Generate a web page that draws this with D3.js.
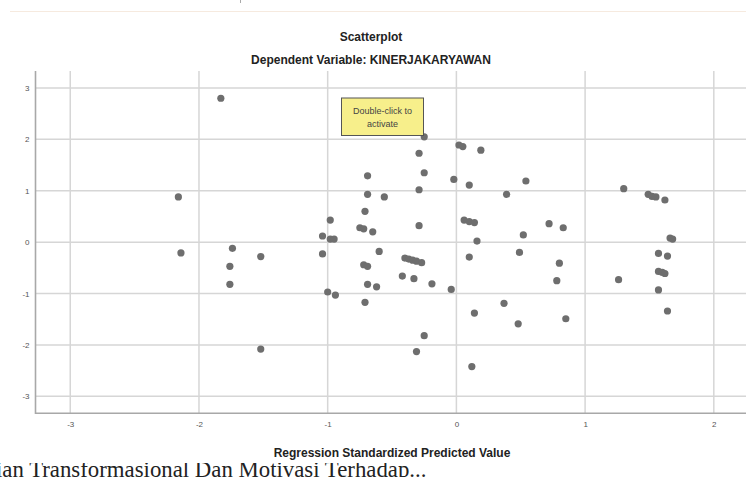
<!DOCTYPE html>
<html>
<head>
<meta charset="utf-8">
<script src="https://cdn.jsdelivr.net/npm/d3@7"></script>
<style>
  body { margin: 0; background: #fff; }
  svg { display: block; }
</style>
</head>
<body>
<div id="chart"></div>
<script>
// regression standardized predicted value (x) vs residual (y)
var predicted = [
  -1.83, -2.16, -2.14, -1.74, -1.76, -1.76, -1.52, -1.52,
  -0.25, 0.02, 0.05, 0.19, -0.29, -0.25, -0.69, -0.02, 0.10, 0.54,
  -0.29, -0.69, -0.56, 0.39, -0.71, -0.98, -0.75, -0.72, -0.65, -0.29,
  0.06, 0.10, 0.14, 0.16, -1.04, -0.98, -0.95, -1.04, -0.60, 0.10,
  -0.72, -0.69, -0.40, -0.37, -0.34, -0.31, -0.27, -0.42, -0.33, -0.19,
  -0.04, -0.69, -0.62, -1.00, -0.94, -0.71, -0.25, -0.31, 0.14, 0.12,
  1.30, 0.72, 0.83, 0.52, 0.49, 0.80, 0.78, 1.26, 0.37, 0.85, 0.48,
  1.49, 1.52, 1.55, 1.62, 1.66, 1.68, 1.57, 1.64, 1.57, 1.60, 1.62, 1.57, 1.64
];
var residual = [
  2.80, 0.88, -0.21, -0.12, -0.47, -0.82, -0.28, -2.08,
  2.05, 1.89, 1.86, 1.79, 1.73, 1.35, 1.29, 1.22, 1.11, 1.19,
  1.02, 0.93, 0.88, 0.93, 0.60, 0.43, 0.28, 0.26, 0.20, 0.32,
  0.43, 0.40, 0.38, 0.02, 0.12, 0.06, 0.06, -0.23, -0.18, -0.29,
  -0.44, -0.47, -0.31, -0.33, -0.35, -0.37, -0.40, -0.66, -0.71, -0.81,
  -0.92, -0.82, -0.87, -0.97, -1.03, -1.17, -1.82, -2.13, -1.38, -2.42,
  1.04, 0.36, 0.28, 0.14, -0.20, -0.41, -0.75, -0.73, -1.19, -1.49, -1.59,
  0.93, 0.89, 0.88, 0.82, 0.08, 0.06, -0.22, -0.27, -0.57, -0.59, -0.61, -0.93, -1.34
];
var xTicks = [-3, -2, -1, 0, 1, 2];
var yTicks = [-3, -2, -1, 0, 1, 2, 3];

var width = 746, height = 477;
var plotLeft = 35.5, plotRight = 746, plotTop = 71, plotBottom = 413.3;

var svg = d3.select("#chart")
    .append("svg")
    .attr("width", width)
    .attr("height", height);

var x = d3.scaleLinear()
    .domain([-3.27, 2.25])
    .range([plotLeft, plotRight]);

var y = d3.scaleLinear()
    .domain([-3.33, 3.33])
    .range([plotBottom, plotTop]);

// faint page line at the top and the clipped bit of text above it
svg.append("line")
    .attr("x1", 10).attr("x2", width)
    .attr("y1", 11.5).attr("y2", 11.5)
    .style("stroke", "#f6eadf")
    .style("stroke-width", 1);
svg.append("line")
    .attr("x1", 240.5).attr("x2", 240.5)
    .attr("y1", 0).attr("y2", 3)
    .style("stroke", "#aaa");

// titles
svg.append("text")
    .attr("x", 371).attr("y", 41)
    .attr("text-anchor", "middle")
    .style("font-family", "Liberation Sans, Arial, sans-serif")
    .style("font-weight", "bold")
    .style("font-size", "12px")
    .style("fill", "#222")
    .text("Scatterplot");

svg.append("text")
    .attr("x", 371).attr("y", 64)
    .attr("text-anchor", "middle")
    .style("font-family", "Liberation Sans, Arial, sans-serif")
    .style("font-weight", "bold")
    .style("font-size", "12px")
    .style("fill", "#222")
    .text("Dependent Variable: KINERJAKARYAWAN");

// grid
var grid = svg.append("g");
grid.selectAll("line.h")
    .data(yTicks)
    .enter()
    .append("line")
    .attr("x1", plotLeft).attr("x2", plotRight)
    .attr("y1", function (d) { return y(d); })
    .attr("y2", function (d) { return y(d); })
    .style("stroke", "#d6d6d6")
    .style("stroke-width", 1.5);
grid.selectAll("line.v")
    .data(xTicks)
    .enter()
    .append("line")
    .attr("y1", plotTop).attr("y2", plotBottom)
    .attr("x1", function (d) { return x(d); })
    .attr("x2", function (d) { return x(d); })
    .style("stroke", "#d6d6d6")
    .style("stroke-width", 1.5);

// axes
var fmt = function (d) { return String(d); };
var xAxis = svg.append("g")
    .attr("transform", "translate(0," + plotBottom + ")")
    .call(d3.axisBottom(x).tickValues(xTicks).tickFormat(fmt).tickSize(0).tickPadding(8));
var yAxis = svg.append("g")
    .attr("transform", "translate(" + plotLeft + ",0)")
    .call(d3.axisLeft(y).tickValues(yTicks).tickFormat(fmt).tickSize(0).tickPadding(6));

[xAxis, yAxis].forEach(function (g) {
    g.select(".domain").remove();
    g.selectAll("text")
        .style("font-family", "Liberation Sans, Arial, sans-serif")
        .style("font-size", "8px")
        .style("fill", "#555");
});

svg.append("line")
    .attr("x1", plotLeft).attr("x2", plotLeft)
    .attr("y1", plotTop).attr("y2", plotBottom + 0.7)
    .style("stroke", "#a8a8a8")
    .style("stroke-width", 1.6);
svg.append("line")
    .attr("x1", plotLeft).attr("x2", plotRight)
    .attr("y1", plotBottom).attr("y2", plotBottom)
    .style("stroke", "#a8a8a8")
    .style("stroke-width", 1.6);

// points
svg.append("g")
    .selectAll("circle")
    .data(predicted.map(function (d, i) { return [d, residual[i]]; }))
    .enter()
    .append("circle")
    .attr("cx", function (d) { return x(d[0]); })
    .attr("cy", function (d) { return y(d[1]); })
    .attr("r", 3.6)
    .style("fill", "#6e6e6e");

// "Double-click to activate" note
var note = svg.append("g");
note.append("rect")
    .attr("x", 341.5).attr("y", 98)
    .attr("width", 82).attr("height", 37.5)
    .style("fill", "#f7ef8b")
    .style("stroke", "#555")
    .style("stroke-width", 1);
note.append("text")
    .attr("x", 382.5).attr("y", 114)
    .attr("text-anchor", "middle")
    .style("font-family", "Liberation Sans, Arial, sans-serif")
    .style("font-size", "9px")
    .style("fill", "#444")
    .text("Double-click to");
note.append("text")
    .attr("x", 382.5).attr("y", 127)
    .attr("text-anchor", "middle")
    .style("font-family", "Liberation Sans, Arial, sans-serif")
    .style("font-size", "9px")
    .style("fill", "#444")
    .text("activate");

// x axis title
svg.append("text")
    .attr("x", 392).attr("y", 457)
    .attr("text-anchor", "middle")
    .style("font-family", "Liberation Sans, Arial, sans-serif")
    .style("font-weight", "bold")
    .style("font-size", "12px")
    .style("fill", "#222")
    .text("Regression Standardized Predicted Value");

// page text underneath, top clipped by the chart image
svg.append("clipPath")
    .attr("id", "pageclip")
    .append("rect")
    .attr("x", 0).attr("y", 463)
    .attr("width", width).attr("height", 20);
svg.append("text")
    .attr("x", -4).attr("y", 477)
    .attr("clip-path", "url(#pageclip)")
    .style("font-family", "Liberation Serif, Times New Roman, serif")
    .style("font-size", "22.8px")
    .style("fill", "#222")
    .text("ian Transformasional Dan Motivasi Terhadap...");
</script>
</body>
</html>
